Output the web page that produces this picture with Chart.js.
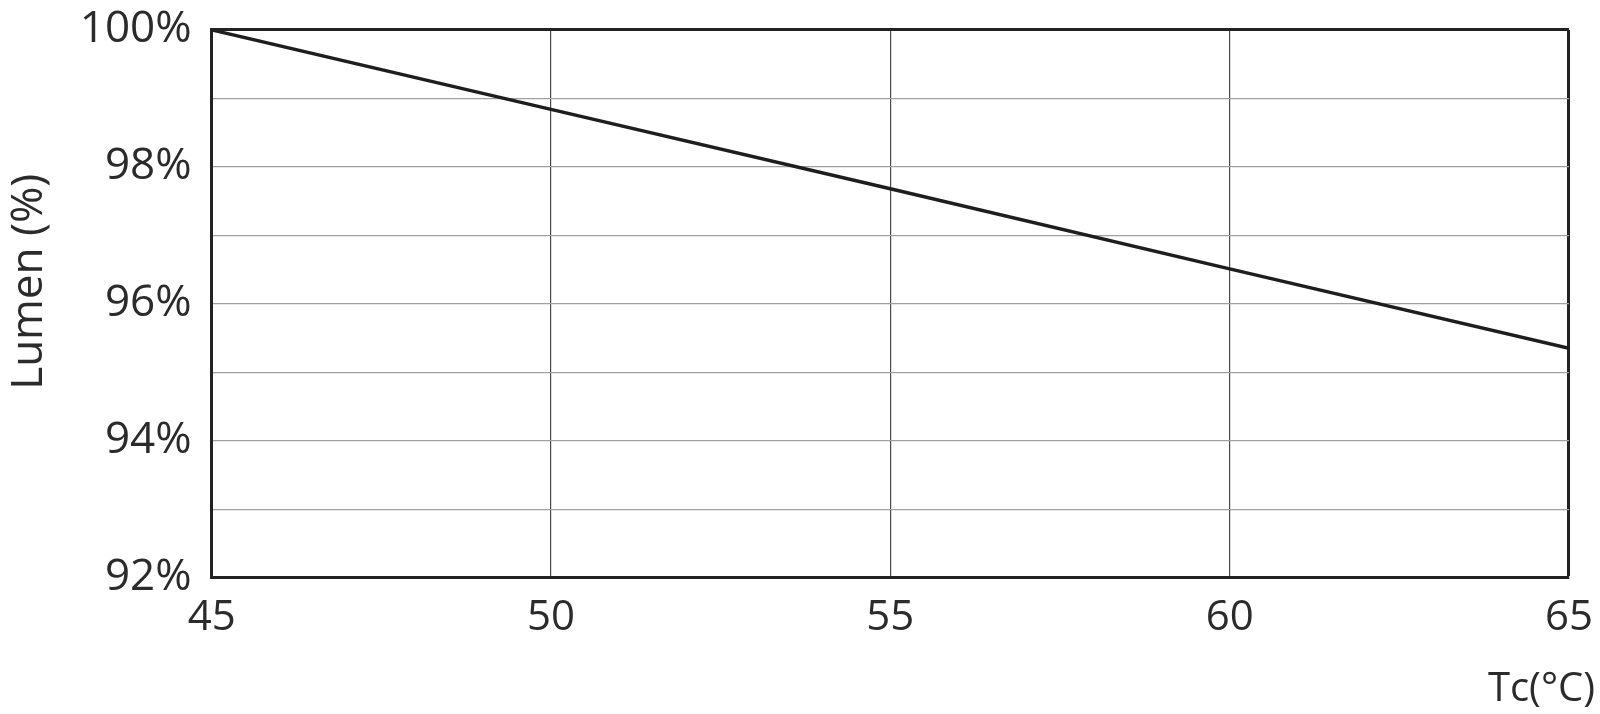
<!DOCTYPE html>
<html>
<head>
<meta charset="utf-8">
<script src="https://cdn.jsdelivr.net/npm/chart.js@4.4.0/dist/chart.umd.min.js"></script>
<style>
  html, body { margin: 0; padding: 0; background: #fff; }
  #wrap { width: 1600px; height: 714px; }
</style>
</head>
<body>
<div id="wrap"><canvas id="lumenChart" width="1600" height="714"></canvas></div>
<script>
// --- Data ---
const temps = [45, 50, 55, 60, 65];
const lumen = [100, 98.84, 97.68, 96.51, 95.35];
const yTicks = [92, 94, 96, 98, 100];

const FONT = "'Open Sans', 'Noto Sans', sans-serif";
const TEXT = "#2b2b2b";
const FRAME = "#222";

const ctx = document.getElementById("lumenChart").getContext("2d");
new Chart(ctx, {
  type: "line",
  data: {
    datasets: [
      {
        label: "Lumen",
        data: temps.map((t, i) => ({ x: t, y: lumen[i] })),
        borderColor: "#1e1e1e",
        borderWidth: 3.5,
        pointRadius: 0,
        tension: 0,
        fill: false,
      },
    ],
  },
  options: {
    responsive: false,
    animation: false,
    layout: { padding: { top: 5, right: 5, left: 3, bottom: 0 } },
    plugins: {
      legend: { display: false },
      tooltip: { enabled: false },
      title: {
        display: true,
        text: "Tc(°C)",
        position: "bottom",
        align: "end",
        color: TEXT,
        font: { family: FONT, size: 40, weight: "normal" },
        padding: { top: 16, bottom: 0 },
      },
    },
    scales: {
      x: {
        type: "linear",
        min: 45,
        max: 65,
        ticks: {
          stepSize: 5,
          color: TEXT,
          font: { family: FONT, size: 42 },
          padding: 7,
        },
        grid: {
          drawTicks: true,
          tickLength: 8,
          tickColor: "rgba(0,0,0,0)",
          color: (c) => (c.tick && c.tick.value === 65 ? FRAME : "#4a4a4a"),
          lineWidth: (c) => (c.tick && c.tick.value === 65 ? 3 : 1.2),
        },
        border: { color: FRAME, width: 3 },
      },
      y: {
        min: 92,
        max: 100,
        ticks: {
          stepSize: 1,
          color: TEXT,
          font: { family: FONT, size: 44, lineHeight: 1.36 },
          padding: 0,
          callback: (v) => (yTicks.includes(v) ? v + "%" : ""),
        },
        grid: {
          drawTicks: true,
          tickLength: 20,
          tickColor: "rgba(0,0,0,0)",
          color: (c) => (c.tick && c.tick.value === 100 ? FRAME : "#a0a0a0"),
          lineWidth: (c) => (c.tick && c.tick.value === 100 ? 3 : 1.2),
        },
        border: { color: FRAME, width: 3 },
        title: {
          display: true,
          // leading en spaces nudge the label up, as in the original
          text: "\u2002\u2002Lumen (%)",
          color: TEXT,
          font: { family: FONT, size: 44 },
          padding: { top: 0, bottom: 24 },
        },
      },
    },
  },
});
</script>
</body>
</html>
